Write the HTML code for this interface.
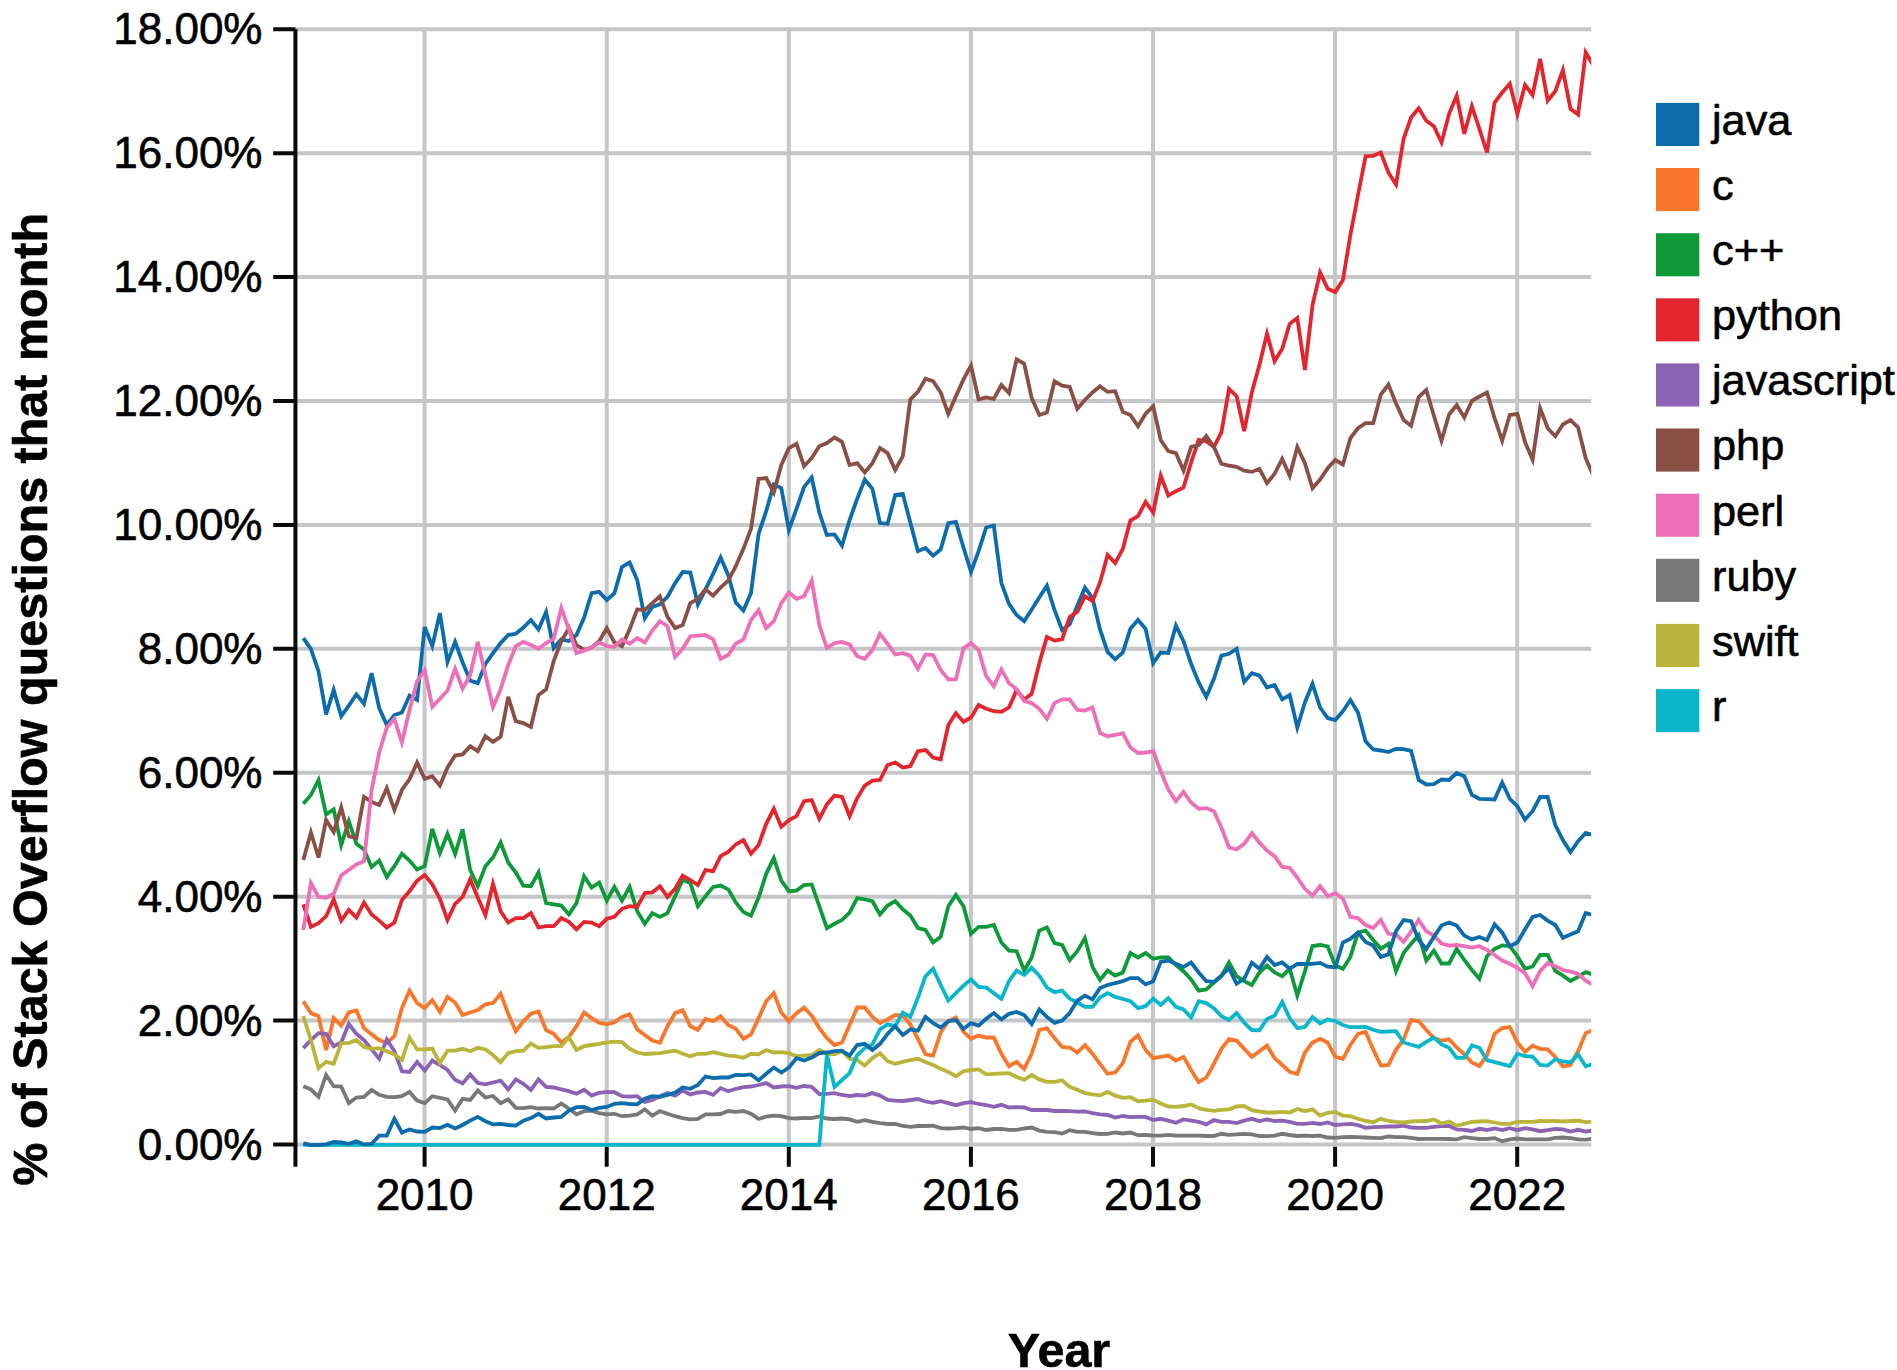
<!DOCTYPE html>
<html><head><meta charset="utf-8"><title>chart</title>
<style>html,body{margin:0;padding:0;background:#fff}svg{display:block}text{font-family:"Liberation Sans",sans-serif;fill:#000;stroke:#000;stroke-width:0.6px;stroke-linejoin:round}</style></head><body>
<svg width="1897" height="1370" viewBox="0 0 1897 1370">
<rect width="1897" height="1370" fill="#fff"/>
<defs><clipPath id="cp"><rect x="296" y="9.3" width="1295.2" height="1139.2"/></clipPath></defs>
<path d="M424.6 27.3V1146.5M606.7 27.3V1146.5M788.8 27.3V1146.5M970.9 27.3V1146.5M1153.0 27.3V1146.5M1335.1 27.3V1146.5M1517.2 27.3V1146.5M295.45 29.30H1591.2M295.45 153.21H1591.2M295.45 277.12H1591.2M295.45 401.03H1591.2M295.45 524.94H1591.2M295.45 648.86H1591.2M295.45 772.77H1591.2M295.45 896.68H1591.2M295.45 1020.59H1591.2M295.45 1144.50H1591.2" stroke="#c5c6c7" stroke-width="4" fill="none"/>
<path d="M295.45 29.30V1166.7M273.2 29.30H295.45M273.2 153.21H295.45M273.2 277.12H295.45M273.2 401.03H295.45M273.2 524.94H295.45M273.2 648.86H295.45M273.2 772.77H295.45M273.2 896.68H295.45M273.2 1020.59H295.45M273.2 1144.50H295.45M424.6 1146.7V1166.7M606.7 1146.7V1166.7M788.8 1146.7V1166.7M970.9 1146.7V1166.7M1153.0 1146.7V1166.7M1335.1 1146.7V1166.7M1517.2 1146.7V1166.7" stroke="#0a0a0a" stroke-width="4" fill="none"/>
<g clip-path="url(#cp)" fill="none" stroke-width="3.8" stroke-linejoin="miter" stroke-linecap="butt">
<path d="M303.3 638.1L310.9 648.8L318.5 671.2L326.1 714.4L333.7 690.0L341.2 716.2L348.8 705.6L356.4 694.4L364.0 703.8L371.6 673.1L379.2 708.1L386.8 725.0L394.4 715.0L401.9 712.5L409.5 695.6L417.1 700.0L424.7 626.9L432.3 646.2L439.9 613.1L447.5 661.9L455.1 641.9L462.6 662.2L470.2 680.6L477.8 683.1L485.4 663.8L493.0 653.1L500.6 643.1L508.2 635.0L515.8 633.8L523.4 627.5L530.9 620.0L538.5 629.4L546.1 611.9L553.7 648.1L561.3 639.4L568.9 641.0L576.5 635.0L584.1 617.5L591.6 593.1L599.2 591.9L606.8 600.0L614.4 593.1L622.0 566.9L629.6 562.5L637.2 580.0L644.8 618.1L652.3 606.9L659.9 604.4L667.5 596.9L675.1 583.1L682.7 571.9L690.3 572.5L697.9 604.4L705.5 589.4L713.1 573.8L720.6 557.5L728.2 575.0L735.8 602.5L743.4 610.6L751.0 593.1L758.6 533.8L766.2 511.2L773.8 484.4L781.3 488.1L788.9 530.0L796.5 508.8L804.1 486.9L811.7 477.5L819.3 512.5L826.9 535.0L834.5 534.4L842.0 545.6L849.6 520.0L857.2 498.8L864.8 479.4L872.4 488.8L880.0 523.1L887.6 523.8L895.2 495.0L902.8 493.8L910.3 522.5L917.9 551.2L925.5 548.1L933.1 555.6L940.7 549.4L948.3 523.1L955.9 521.9L963.5 547.5L971.0 571.9L978.6 551.2L986.2 527.5L993.8 525.6L1001.4 583.1L1009.0 603.8L1016.6 615.0L1024.2 621.2L1031.7 609.4L1039.3 597.5L1046.9 585.6L1054.5 610.0L1062.1 630.0L1069.7 624.4L1077.3 605.6L1084.9 587.5L1092.5 598.1L1100.0 629.4L1107.6 651.9L1115.2 659.4L1122.8 652.5L1130.4 628.8L1138.0 620.0L1145.6 628.8L1153.2 663.1L1160.7 652.5L1168.3 653.1L1175.9 625.6L1183.5 641.2L1191.1 663.8L1198.7 682.5L1206.3 696.9L1213.9 678.8L1221.4 655.6L1229.0 653.8L1236.6 648.8L1244.2 681.9L1251.8 673.1L1259.4 675.6L1267.0 687.5L1274.6 685.0L1282.2 699.4L1289.7 695.0L1297.3 727.5L1304.9 702.5L1312.5 683.8L1320.1 707.5L1327.7 718.1L1335.3 720.0L1342.9 711.2L1350.4 700.0L1358.0 712.5L1365.6 741.2L1373.2 749.5L1380.8 750.5L1388.4 752.0L1396.0 748.8L1403.6 749.2L1411.1 750.8L1418.7 780.0L1426.3 784.5L1433.9 784.2L1441.5 779.5L1449.1 780.0L1456.7 773.0L1464.3 776.2L1471.9 795.0L1479.4 798.8L1487.0 799.2L1494.6 799.5L1502.2 782.5L1509.8 798.8L1517.4 806.2L1525.0 819.5L1532.6 811.2L1540.1 797.0L1547.7 797.0L1555.3 825.0L1562.9 840.0L1570.5 852.0L1578.1 841.2L1585.7 833.0L1593.3 835.0" stroke="#0d6cab"/>
<path d="M303.3 1001.2L310.9 1013.1L318.5 1016.2L326.1 1050.0L333.7 1018.1L341.2 1025.6L348.8 1012.5L356.4 1010.6L364.0 1028.1L371.6 1034.4L379.2 1040.0L386.8 1043.1L394.4 1036.2L401.9 1008.1L409.5 990.6L417.1 1003.1L424.7 1008.1L432.3 1000.0L439.9 1011.9L447.5 996.9L455.1 1002.5L462.6 1015.0L470.2 1012.5L477.8 1010.0L485.4 1004.4L493.0 1003.1L500.6 993.8L508.2 1013.8L515.8 1031.2L523.4 1021.2L530.9 1013.8L538.5 1011.5L546.1 1030.0L553.7 1033.8L561.3 1042.5L568.9 1036.9L576.5 1026.2L584.1 1012.5L591.6 1018.1L599.2 1022.8L606.8 1024.4L614.4 1022.2L622.0 1016.9L629.6 1014.4L637.2 1029.4L644.8 1035.0L652.3 1040.6L659.9 1042.8L667.5 1026.2L675.1 1013.1L682.7 1010.2L690.3 1026.2L697.9 1029.8L705.5 1019.0L713.1 1021.2L720.6 1016.2L728.2 1025.0L735.8 1028.8L743.4 1038.8L751.0 1034.4L758.6 1018.1L766.2 1001.2L773.8 993.1L781.3 1012.5L788.9 1021.2L796.5 1013.1L804.1 1007.5L811.7 1015.6L819.3 1028.1L826.9 1038.1L834.5 1045.0L842.0 1042.5L849.6 1025.0L857.2 1007.5L864.8 1007.5L872.4 1016.9L880.0 1023.1L887.6 1019.4L895.2 1015.0L902.8 1015.6L910.3 1024.4L917.9 1038.8L925.5 1054.4L933.1 1055.6L940.7 1032.5L948.3 1021.2L955.9 1017.5L963.5 1031.9L971.0 1038.8L978.6 1035.6L986.2 1037.5L993.8 1037.5L1001.4 1053.8L1009.0 1066.2L1016.6 1061.9L1024.2 1068.8L1031.7 1053.8L1039.3 1030.0L1046.9 1028.1L1054.5 1038.1L1062.1 1046.9L1069.7 1047.5L1077.3 1052.5L1084.9 1045.0L1092.5 1053.8L1100.0 1063.8L1107.6 1073.8L1115.2 1072.5L1122.8 1063.1L1130.4 1041.9L1138.0 1035.2L1145.6 1050.0L1153.2 1058.1L1160.7 1056.9L1168.3 1055.6L1175.9 1060.6L1183.5 1056.9L1191.1 1070.0L1198.7 1082.2L1206.3 1077.5L1213.9 1063.8L1221.4 1048.8L1229.0 1039.0L1236.6 1040.6L1244.2 1048.8L1251.8 1056.9L1259.4 1051.2L1267.0 1045.6L1274.6 1058.1L1282.2 1065.0L1289.7 1071.9L1297.3 1074.0L1304.9 1052.5L1312.5 1042.5L1320.1 1038.8L1327.7 1042.5L1335.3 1056.9L1342.9 1058.8L1350.4 1045.0L1358.0 1033.8L1365.6 1031.9L1373.2 1049.4L1380.8 1065.6L1388.4 1065.0L1396.0 1049.8L1403.6 1039.4L1411.1 1019.8L1418.7 1021.2L1426.3 1030.0L1433.9 1038.1L1441.5 1040.6L1449.1 1039.4L1456.7 1047.5L1464.3 1054.4L1471.9 1062.5L1479.4 1066.0L1487.0 1055.0L1494.6 1033.8L1502.2 1028.1L1509.8 1027.1L1517.4 1042.5L1525.0 1051.9L1532.6 1045.6L1540.1 1048.8L1547.7 1049.4L1555.3 1056.9L1562.9 1066.5L1570.5 1065.0L1578.1 1051.2L1585.7 1033.1L1593.3 1030.0" stroke="#f9772b"/>
<path d="M303.3 803.8L310.9 795.0L318.5 780.0L326.1 814.4L333.7 809.4L341.2 845.0L348.8 821.2L356.4 843.8L364.0 849.4L371.6 866.9L379.2 860.6L386.8 876.9L394.4 866.2L401.9 853.8L409.5 860.6L417.1 869.4L424.7 866.2L432.3 828.8L439.9 853.1L447.5 833.8L455.1 853.8L462.6 829.4L470.2 870.0L477.8 886.2L485.4 866.2L493.0 857.5L500.6 842.5L508.2 862.5L515.8 872.5L523.4 885.6L530.9 886.2L538.5 872.5L546.1 903.1L553.7 904.4L561.3 905.6L568.9 914.4L576.5 903.1L584.1 876.2L591.6 887.5L599.2 882.5L606.8 900.6L614.4 886.9L622.0 900.6L629.6 886.9L637.2 911.2L644.8 923.8L652.3 913.1L659.9 916.9L667.5 913.1L675.1 896.2L682.7 880.0L690.3 883.1L697.9 906.2L705.5 896.2L713.1 886.9L720.6 885.6L728.2 889.4L735.8 902.5L743.4 911.9L751.0 915.6L758.6 897.5L766.2 873.8L773.8 858.1L781.3 880.6L788.9 891.2L796.5 890.6L804.1 885.0L811.7 884.4L819.3 906.2L826.9 928.1L834.5 923.8L842.0 920.0L849.6 912.5L857.2 898.1L864.8 899.4L872.4 901.2L880.0 914.4L887.6 905.6L895.2 901.2L902.8 909.4L910.3 915.6L917.9 928.1L925.5 930.0L933.1 942.5L940.7 936.9L948.3 906.2L955.9 895.0L963.5 906.2L971.0 933.8L978.6 926.9L986.2 926.9L993.8 925.0L1001.4 942.5L1009.0 950.6L1016.6 951.2L1024.2 970.6L1031.7 957.5L1039.3 930.6L1046.9 927.5L1054.5 943.1L1062.1 945.0L1069.7 960.0L1077.3 951.2L1084.9 938.1L1092.5 966.9L1100.0 980.0L1107.6 970.6L1115.2 975.6L1122.8 972.5L1130.4 953.1L1138.0 957.5L1145.6 953.1L1153.2 958.8L1160.7 957.5L1168.3 957.5L1175.9 965.0L1183.5 971.2L1191.1 979.4L1198.7 990.6L1206.3 989.4L1213.9 982.5L1221.4 976.2L1229.0 962.5L1236.6 976.2L1244.2 981.2L1251.8 985.0L1259.4 972.5L1267.0 965.6L1274.6 972.5L1282.2 976.2L1289.7 968.8L1297.3 995.6L1304.9 971.2L1312.5 946.0L1320.1 945.0L1327.7 946.5L1335.3 965.6L1342.9 968.8L1350.4 956.9L1358.0 932.5L1365.6 930.6L1373.2 940.0L1380.8 948.8L1388.4 943.8L1396.0 971.2L1403.6 953.1L1411.1 943.8L1418.7 935.0L1426.3 960.6L1433.9 950.6L1441.5 963.5L1449.1 963.5L1456.7 949.0L1464.3 960.0L1471.9 970.0L1479.4 978.8L1487.0 956.2L1494.6 948.8L1502.2 945.4L1509.8 946.2L1517.4 956.2L1525.0 968.8L1532.6 966.5L1540.1 955.0L1547.7 955.0L1555.3 971.0L1562.9 975.6L1570.5 981.0L1578.1 976.9L1585.7 972.2L1593.3 974.8" stroke="#0f9a3a"/>
<path d="M303.3 904.4L310.9 926.9L318.5 923.1L326.1 916.2L333.7 899.4L341.2 920.6L348.8 910.0L356.4 917.5L364.0 902.5L371.6 914.4L379.2 920.6L386.8 927.5L394.4 922.5L401.9 900.0L409.5 891.2L417.1 880.6L424.7 875.0L432.3 884.4L439.9 898.8L447.5 920.0L455.1 903.8L462.6 896.9L470.2 879.4L477.8 897.5L485.4 915.0L493.0 883.8L500.6 911.2L508.2 922.5L515.8 918.1L523.4 918.1L530.9 913.1L538.5 927.5L546.1 926.2L553.7 926.2L561.3 918.1L568.9 921.9L576.5 929.4L584.1 921.9L591.6 922.5L599.2 926.2L606.8 918.8L614.4 916.9L622.0 908.8L629.6 906.2L637.2 906.9L644.8 893.1L652.3 892.5L659.9 886.2L667.5 896.9L675.1 888.8L682.7 875.6L690.3 880.0L697.9 885.0L705.5 870.0L713.1 871.2L720.6 856.2L728.2 851.9L735.8 844.4L743.4 840.0L751.0 853.8L758.6 845.0L766.2 823.8L773.8 808.8L781.3 826.9L788.9 820.0L796.5 816.2L804.1 801.2L811.7 800.0L819.3 818.8L826.9 804.4L834.5 795.6L842.0 796.9L849.6 816.2L857.2 798.1L864.8 785.6L872.4 780.6L880.0 780.0L887.6 765.0L895.2 762.5L902.8 767.5L910.3 766.2L917.9 751.2L925.5 750.0L933.1 757.5L940.7 759.4L948.3 725.0L955.9 713.1L963.5 721.9L971.0 717.5L978.6 705.0L986.2 708.8L993.8 711.2L1001.4 711.9L1009.0 707.5L1016.6 690.2L1024.2 699.4L1031.7 693.8L1039.3 663.1L1046.9 636.9L1054.5 640.6L1062.1 639.4L1069.7 616.9L1077.3 611.9L1084.9 596.2L1092.5 601.2L1100.0 582.5L1107.6 555.0L1115.2 563.1L1122.8 548.8L1130.4 520.6L1138.0 516.2L1145.6 501.9L1153.2 512.5L1160.7 475.6L1168.3 495.6L1175.9 491.2L1183.5 487.5L1191.1 462.5L1198.7 440.0L1206.3 441.2L1213.9 446.9L1221.4 432.5L1229.0 388.8L1236.6 396.2L1244.2 431.2L1251.8 392.5L1259.4 365.0L1267.0 333.8L1274.6 361.2L1282.2 348.8L1289.7 323.8L1297.3 318.0L1304.9 370.0L1312.5 305.0L1320.1 272.5L1327.7 288.8L1335.3 292.0L1342.9 280.0L1350.4 235.0L1358.0 195.0L1365.6 156.2L1373.2 155.8L1380.8 152.5L1388.4 172.5L1396.0 184.5L1403.6 138.8L1411.1 117.5L1418.7 108.2L1426.3 120.8L1433.9 126.2L1441.5 142.5L1449.1 113.8L1456.7 95.8L1464.3 133.8L1471.9 106.2L1479.4 128.8L1487.0 152.5L1494.6 102.5L1502.2 92.5L1509.8 83.8L1517.4 113.8L1525.0 85.0L1532.6 95.0L1540.1 58.8L1547.7 100.5L1555.3 91.2L1562.9 70.1L1570.5 108.8L1578.1 114.5L1585.7 52.4L1593.3 65.5" stroke="#e3252d"/>
<path d="M303.3 1048.1L310.9 1040.0L318.5 1033.1L326.1 1033.8L333.7 1046.2L341.2 1042.5L348.8 1023.8L356.4 1033.8L364.0 1040.0L371.6 1049.4L379.2 1058.8L386.8 1039.4L394.4 1051.2L401.9 1071.2L409.5 1071.9L417.1 1061.9L424.7 1070.6L432.3 1060.6L439.9 1065.0L447.5 1070.0L455.1 1079.8L462.6 1083.5L470.2 1074.4L477.8 1083.1L485.4 1084.4L493.0 1082.5L500.6 1080.6L508.2 1089.4L515.8 1079.4L523.4 1083.8L530.9 1090.0L538.5 1079.4L546.1 1086.9L553.7 1087.5L561.3 1089.4L568.9 1091.2L576.5 1093.8L584.1 1089.8L591.6 1095.6L599.2 1092.8L606.8 1091.9L614.4 1092.2L622.0 1096.2L629.6 1096.6L637.2 1096.2L644.8 1101.9L652.3 1100.0L659.9 1096.2L667.5 1093.1L675.1 1095.6L682.7 1090.6L690.3 1094.4L697.9 1092.5L705.5 1091.9L713.1 1094.8L720.6 1088.1L728.2 1091.2L735.8 1088.8L743.4 1087.2L751.0 1086.5L758.6 1085.0L766.2 1083.1L773.8 1087.5L781.3 1086.5L788.9 1086.2L796.5 1087.8L804.1 1086.0L811.7 1086.9L819.3 1094.0L826.9 1093.8L834.5 1093.1L842.0 1095.0L849.6 1096.2L857.2 1095.0L864.8 1095.6L872.4 1093.1L880.0 1095.6L887.6 1100.0L895.2 1100.6L902.8 1101.0L910.3 1100.0L917.9 1099.0L925.5 1101.5L933.1 1102.9L940.7 1101.2L948.3 1103.1L955.9 1105.2L963.5 1103.1L971.0 1102.2L978.6 1104.0L986.2 1105.0L993.8 1106.9L1001.4 1104.8L1009.0 1107.5L1016.6 1107.2L1024.2 1107.5L1031.7 1110.0L1039.3 1109.8L1046.9 1110.0L1054.5 1111.0L1062.1 1111.0L1069.7 1111.2L1077.3 1111.6L1084.9 1111.5L1092.5 1113.1L1100.0 1114.4L1107.6 1115.0L1115.2 1117.5L1122.8 1116.0L1130.4 1117.2L1138.0 1116.9L1145.6 1116.9L1153.2 1120.0L1160.7 1118.8L1168.3 1120.6L1175.9 1122.8L1183.5 1119.4L1191.1 1120.6L1198.7 1121.9L1206.3 1124.4L1213.9 1120.0L1221.4 1121.9L1229.0 1121.9L1236.6 1123.1L1244.2 1120.6L1251.8 1118.8L1259.4 1121.0L1267.0 1119.4L1274.6 1121.0L1282.2 1120.6L1289.7 1121.9L1297.3 1123.8L1304.9 1123.8L1312.5 1122.8L1320.1 1124.0L1327.7 1122.5L1335.3 1125.0L1342.9 1124.4L1350.4 1123.8L1358.0 1125.2L1365.6 1127.8L1373.2 1127.2L1380.8 1126.9L1388.4 1126.5L1396.0 1126.5L1403.6 1125.6L1411.1 1127.5L1418.7 1127.9L1426.3 1127.8L1433.9 1126.9L1441.5 1126.2L1449.1 1126.0L1456.7 1129.4L1464.3 1129.8L1471.9 1131.0L1479.4 1128.8L1487.0 1130.0L1494.6 1128.5L1502.2 1130.0L1509.8 1128.1L1517.4 1130.2L1525.0 1128.1L1532.6 1129.4L1540.1 1131.2L1547.7 1130.2L1555.3 1128.8L1562.9 1129.4L1570.5 1131.5L1578.1 1129.8L1585.7 1131.5L1593.3 1130.6" stroke="#8c62b5"/>
<path d="M303.3 860.0L310.9 832.5L318.5 857.5L326.1 820.0L333.7 831.9L341.2 807.5L348.8 836.2L356.4 838.1L364.0 796.9L371.6 801.9L379.2 805.0L386.8 788.1L394.4 810.0L401.9 790.0L409.5 779.4L417.1 762.5L424.7 778.8L432.3 776.2L439.9 785.6L447.5 767.5L455.1 755.6L462.6 754.4L470.2 746.2L477.8 751.2L485.4 736.2L493.0 741.9L500.6 736.9L508.2 696.9L515.8 721.2L523.4 723.1L530.9 726.9L538.5 695.0L546.1 689.4L553.7 661.2L561.3 641.2L568.9 628.1L576.5 645.0L584.1 649.8L591.6 647.5L599.2 641.2L606.8 628.1L614.4 642.5L622.0 646.2L629.6 629.4L637.2 609.4L644.8 610.0L652.3 603.1L659.9 596.2L667.5 616.9L675.1 628.1L682.7 625.0L690.3 603.1L697.9 598.8L705.5 589.4L713.1 595.6L720.6 587.5L728.2 580.6L735.8 566.2L743.4 548.8L751.0 528.8L758.6 478.8L766.2 478.1L773.8 492.5L781.3 465.0L788.9 448.1L796.5 443.8L804.1 466.2L811.7 458.1L819.3 446.2L826.9 443.1L834.5 437.5L842.0 441.9L849.6 465.0L857.2 463.1L864.8 472.5L872.4 463.1L880.0 448.1L887.6 453.1L895.2 470.0L902.8 456.2L910.3 399.4L917.9 391.9L925.5 378.8L933.1 381.2L940.7 392.5L948.3 413.8L955.9 396.2L963.5 379.4L971.0 365.6L978.6 399.4L986.2 397.5L993.8 398.8L1001.4 385.0L1009.0 393.1L1016.6 359.4L1024.2 363.8L1031.7 398.1L1039.3 415.0L1046.9 412.5L1054.5 381.2L1062.1 385.6L1069.7 386.9L1077.3 408.8L1084.9 400.0L1092.5 392.5L1100.0 386.2L1107.6 391.9L1115.2 391.2L1122.8 411.9L1130.4 415.0L1138.0 426.2L1145.6 413.8L1153.2 406.2L1160.7 440.0L1168.3 451.2L1175.9 453.1L1183.5 470.6L1191.1 446.9L1198.7 445.0L1206.3 436.2L1213.9 446.9L1221.4 463.8L1229.0 465.6L1236.6 466.9L1244.2 470.6L1251.8 471.9L1259.4 468.8L1267.0 483.1L1274.6 473.8L1282.2 459.0L1289.7 475.8L1297.3 447.0L1304.9 463.2L1312.5 488.2L1320.1 479.5L1327.7 468.2L1335.3 460.0L1342.9 464.5L1350.4 438.2L1358.0 428.2L1365.6 423.2L1373.2 423.2L1380.8 394.5L1388.4 384.5L1396.0 403.2L1403.6 420.0L1411.1 425.8L1418.7 397.0L1426.3 390.0L1433.9 415.8L1441.5 440.8L1449.1 414.5L1456.7 405.0L1464.3 417.5L1471.9 400.8L1479.4 396.5L1487.0 392.5L1494.6 418.2L1502.2 440.8L1509.8 415.0L1517.4 413.8L1525.0 442.0L1532.6 459.5L1540.1 408.2L1547.7 428.2L1555.3 436.2L1562.9 424.5L1570.5 420.2L1578.1 427.5L1585.7 458.2L1593.3 475.8" stroke="#8a4f45"/>
<path d="M303.3 930.0L310.9 883.1L318.5 896.9L326.1 897.8L333.7 893.8L341.2 875.2L348.8 870.0L356.4 864.4L364.0 861.2L371.6 790.0L379.2 752.5L386.8 727.5L394.4 718.8L401.9 742.5L409.5 710.0L417.1 681.2L424.7 670.0L432.3 706.9L439.9 698.8L447.5 690.6L455.1 668.8L462.6 688.8L470.2 675.0L477.8 641.9L485.4 675.0L493.0 706.9L500.6 689.4L508.2 665.0L515.8 646.2L523.4 641.9L530.9 645.0L538.5 648.8L546.1 643.1L553.7 638.8L561.3 608.1L568.9 629.4L576.5 653.1L584.1 650.6L591.6 647.5L599.2 642.5L606.8 646.2L614.4 646.9L622.0 639.4L629.6 643.8L637.2 638.1L644.8 642.5L652.3 630.6L659.9 621.2L667.5 626.2L675.1 656.9L682.7 648.8L690.3 636.2L697.9 635.6L705.5 635.0L713.1 639.4L720.6 658.8L728.2 655.0L735.8 643.8L743.4 639.4L751.0 620.0L758.6 610.0L766.2 628.1L773.8 621.2L781.3 603.1L788.9 592.5L796.5 598.8L804.1 596.2L811.7 580.6L819.3 625.0L826.9 648.1L834.5 643.1L842.0 641.9L849.6 644.4L857.2 656.2L864.8 658.8L872.4 650.0L880.0 633.8L887.6 643.8L895.2 654.4L902.8 653.1L910.3 655.6L917.9 668.8L925.5 654.4L933.1 655.0L940.7 670.0L948.3 679.4L955.9 679.4L963.5 648.1L971.0 643.1L978.6 650.0L986.2 676.2L993.8 686.2L1001.4 669.4L1009.0 683.1L1016.6 689.4L1024.2 701.2L1031.7 703.1L1039.3 708.8L1046.9 718.8L1054.5 703.1L1062.1 699.4L1069.7 699.4L1077.3 710.0L1084.9 710.6L1092.5 707.5L1100.0 733.1L1107.6 736.2L1115.2 735.0L1122.8 733.1L1130.4 747.5L1138.0 753.1L1145.6 752.5L1153.2 751.2L1160.7 771.2L1168.3 789.4L1175.9 801.2L1183.5 791.9L1191.1 802.5L1198.7 808.8L1206.3 808.1L1213.9 811.2L1221.4 827.5L1229.0 847.5L1236.6 849.4L1244.2 843.8L1251.8 833.1L1259.4 842.5L1267.0 850.6L1274.6 856.2L1282.2 866.9L1289.7 867.8L1297.3 877.5L1304.9 888.8L1312.5 895.6L1320.1 886.2L1327.7 896.2L1335.3 893.1L1342.9 898.8L1350.4 916.9L1358.0 918.1L1365.6 925.0L1373.2 928.1L1380.8 920.0L1388.4 933.8L1396.0 934.4L1403.6 941.9L1411.1 931.5L1418.7 920.0L1426.3 931.2L1433.9 935.6L1441.5 943.5L1449.1 945.6L1456.7 945.0L1464.3 946.2L1471.9 947.5L1479.4 946.2L1487.0 950.0L1494.6 955.0L1502.2 960.6L1509.8 963.8L1517.4 967.8L1525.0 973.1L1532.6 986.2L1540.1 971.2L1547.7 963.1L1555.3 966.2L1562.9 970.0L1570.5 971.6L1578.1 973.8L1585.7 980.6L1593.3 985.0" stroke="#ec6fb8"/>
<path d="M303.3 1086.2L310.9 1089.4L318.5 1096.9L326.1 1075.0L333.7 1086.2L341.2 1086.5L348.8 1103.1L356.4 1097.5L364.0 1096.9L371.6 1090.0L379.2 1094.8L386.8 1096.9L394.4 1097.2L401.9 1096.2L409.5 1091.9L417.1 1100.6L424.7 1103.1L432.3 1096.2L439.9 1097.9L447.5 1099.4L455.1 1110.6L462.6 1098.8L470.2 1100.0L477.8 1090.6L485.4 1097.5L493.0 1096.0L500.6 1103.1L508.2 1099.4L515.8 1107.8L523.4 1108.1L530.9 1107.2L538.5 1108.5L546.1 1108.1L553.7 1108.5L561.3 1103.5L568.9 1108.8L576.5 1114.4L584.1 1111.2L591.6 1110.6L599.2 1113.1L606.8 1114.4L614.4 1113.8L622.0 1116.2L629.6 1115.6L637.2 1114.4L644.8 1109.4L652.3 1115.6L659.9 1111.2L667.5 1113.8L675.1 1116.2L682.7 1118.1L690.3 1119.4L697.9 1118.8L705.5 1114.4L713.1 1114.4L720.6 1114.0L728.2 1111.0L735.8 1111.9L743.4 1111.0L751.0 1113.8L758.6 1119.0L766.2 1116.5L773.8 1115.6L781.3 1116.2L788.9 1118.1L796.5 1118.5L804.1 1117.8L811.7 1118.1L819.3 1116.5L826.9 1118.5L834.5 1119.0L842.0 1118.5L849.6 1119.4L857.2 1121.9L864.8 1120.2L872.4 1121.9L880.0 1123.1L887.6 1124.0L895.2 1123.8L902.8 1126.0L910.3 1126.9L917.9 1126.0L925.5 1126.0L933.1 1125.6L940.7 1128.1L948.3 1128.5L955.9 1128.1L963.5 1127.5L971.0 1129.0L978.6 1128.1L986.2 1130.0L993.8 1129.0L1001.4 1128.8L1009.0 1129.8L1016.6 1129.8L1024.2 1128.5L1031.7 1127.5L1039.3 1130.6L1046.9 1131.9L1054.5 1132.2L1062.1 1133.5L1069.7 1130.2L1077.3 1131.9L1084.9 1131.9L1092.5 1133.1L1100.0 1134.0L1107.6 1133.8L1115.2 1132.5L1122.8 1133.5L1130.4 1132.5L1138.0 1135.2L1145.6 1135.0L1153.2 1135.6L1160.7 1135.6L1168.3 1134.8L1175.9 1135.6L1183.5 1135.6L1191.1 1135.6L1198.7 1135.6L1206.3 1136.0L1213.9 1136.0L1221.4 1133.8L1229.0 1134.8L1236.6 1134.4L1244.2 1133.8L1251.8 1134.4L1259.4 1136.0L1267.0 1136.2L1274.6 1135.6L1282.2 1133.8L1289.7 1135.0L1297.3 1136.0L1304.9 1135.6L1312.5 1136.0L1320.1 1135.6L1327.7 1137.5L1335.3 1137.8L1342.9 1137.2L1350.4 1136.9L1358.0 1137.2L1365.6 1137.5L1373.2 1137.8L1380.8 1138.1L1388.4 1136.5L1396.0 1137.2L1403.6 1137.2L1411.1 1137.8L1418.7 1139.0L1426.3 1138.8L1433.9 1138.8L1441.5 1138.8L1449.1 1139.0L1456.7 1139.4L1464.3 1137.2L1471.9 1138.1L1479.4 1139.0L1487.0 1139.0L1494.6 1138.1L1502.2 1141.2L1509.8 1139.4L1517.4 1138.5L1525.0 1139.4L1532.6 1139.4L1540.1 1139.4L1547.7 1139.4L1555.3 1137.8L1562.9 1137.5L1570.5 1138.1L1578.1 1139.4L1585.7 1139.6L1593.3 1138.8" stroke="#787878"/>
<path d="M303.3 1016.2L310.9 1040.0L318.5 1068.1L326.1 1061.9L333.7 1063.8L341.2 1043.1L348.8 1043.1L356.4 1040.0L364.0 1046.9L371.6 1048.8L379.2 1048.1L386.8 1051.2L394.4 1054.4L401.9 1060.0L409.5 1037.5L417.1 1049.4L424.7 1049.4L432.3 1048.5L439.9 1063.1L447.5 1050.6L455.1 1050.6L462.6 1048.8L470.2 1051.2L477.8 1047.8L485.4 1049.4L493.0 1055.0L500.6 1062.2L508.2 1053.1L515.8 1051.2L523.4 1050.6L530.9 1043.5L538.5 1047.8L546.1 1047.2L553.7 1046.2L561.3 1046.2L568.9 1037.2L576.5 1050.0L584.1 1046.2L591.6 1045.0L599.2 1043.8L606.8 1042.5L614.4 1041.6L622.0 1042.2L629.6 1048.8L637.2 1052.5L644.8 1054.0L652.3 1053.5L659.9 1053.1L667.5 1051.9L675.1 1050.6L682.7 1053.8L690.3 1056.2L697.9 1053.8L705.5 1053.8L713.1 1052.2L720.6 1053.8L728.2 1055.6L735.8 1056.2L743.4 1057.8L751.0 1053.8L758.6 1054.4L766.2 1050.0L773.8 1052.5L781.3 1052.2L788.9 1053.1L796.5 1056.2L804.1 1055.6L811.7 1055.0L819.3 1050.0L826.9 1053.8L834.5 1054.4L842.0 1051.2L849.6 1058.8L857.2 1060.0L864.8 1065.6L872.4 1058.1L880.0 1053.1L887.6 1061.2L895.2 1063.8L902.8 1061.9L910.3 1060.0L917.9 1058.8L925.5 1061.9L933.1 1065.0L940.7 1068.8L948.3 1071.9L955.9 1076.2L963.5 1071.2L971.0 1070.0L978.6 1069.4L986.2 1074.4L993.8 1073.8L1001.4 1073.5L1009.0 1073.1L1016.6 1076.9L1024.2 1079.8L1031.7 1075.0L1039.3 1079.4L1046.9 1081.9L1054.5 1081.9L1062.1 1080.2L1069.7 1086.9L1077.3 1089.8L1084.9 1093.1L1092.5 1094.4L1100.0 1095.4L1107.6 1091.9L1115.2 1095.6L1122.8 1097.8L1130.4 1097.2L1138.0 1101.2L1145.6 1100.6L1153.2 1099.8L1160.7 1103.5L1168.3 1106.5L1175.9 1106.9L1183.5 1106.0L1191.1 1104.4L1198.7 1108.1L1206.3 1110.0L1213.9 1110.9L1221.4 1109.8L1229.0 1109.4L1236.6 1106.5L1244.2 1106.0L1251.8 1110.2L1259.4 1111.5L1267.0 1112.5L1274.6 1112.5L1282.2 1111.9L1289.7 1112.5L1297.3 1109.0L1304.9 1111.2L1312.5 1109.4L1320.1 1115.6L1327.7 1112.8L1335.3 1111.9L1342.9 1115.6L1350.4 1116.2L1358.0 1118.8L1365.6 1121.0L1373.2 1122.2L1380.8 1118.8L1388.4 1121.0L1396.0 1121.9L1403.6 1122.5L1411.1 1121.5L1418.7 1121.2L1426.3 1121.0L1433.9 1119.4L1441.5 1123.5L1449.1 1121.5L1456.7 1125.6L1464.3 1123.8L1471.9 1121.9L1479.4 1121.5L1487.0 1121.2L1494.6 1122.5L1502.2 1123.8L1509.8 1123.8L1517.4 1121.9L1525.0 1121.9L1532.6 1121.9L1540.1 1121.0L1547.7 1121.2L1555.3 1121.0L1562.9 1121.5L1570.5 1121.0L1578.1 1120.6L1585.7 1122.2L1593.3 1121.5" stroke="#b9b53a"/>
<path d="M303.3 1144.8L310.9 1144.8L318.5 1144.8L326.1 1144.8L333.7 1144.8L341.2 1144.8L348.8 1144.8L356.4 1144.8L364.0 1144.8L371.6 1144.8L379.2 1144.8L386.8 1144.8L394.4 1144.8L401.9 1144.8L409.5 1144.8L417.1 1144.8L424.7 1144.8L432.3 1144.8L439.9 1144.8L447.5 1144.8L455.1 1144.8L462.6 1144.8L470.2 1144.8L477.8 1144.8L485.4 1144.8L493.0 1144.8L500.6 1144.8L508.2 1144.8L515.8 1144.8L523.4 1144.8L530.9 1144.8L538.5 1144.8L546.1 1144.8L553.7 1144.8L561.3 1144.8L568.9 1144.8L576.5 1144.8L584.1 1144.8L591.6 1144.8L599.2 1144.8L606.8 1144.8L614.4 1144.8L622.0 1144.8L629.6 1144.8L637.2 1144.8L644.8 1144.8L652.3 1144.8L659.9 1144.8L667.5 1144.8L675.1 1144.8L682.7 1144.8L690.3 1144.8L697.9 1144.8L705.5 1144.8L713.1 1144.8L720.6 1144.8L728.2 1144.8L735.8 1144.8L743.4 1144.8L751.0 1144.8L758.6 1144.8L766.2 1144.8L773.8 1144.8L781.3 1144.8L788.9 1144.8L796.5 1144.8L804.1 1144.8L811.7 1144.8L819.3 1144.8L826.9 1055.0L834.5 1086.9L842.0 1080.0L849.6 1073.1L857.2 1055.0L864.8 1048.1L872.4 1044.4L880.0 1029.4L887.6 1024.4L895.2 1026.2L902.8 1012.5L910.3 1016.9L917.9 997.8L925.5 976.2L933.1 968.8L940.7 985.0L948.3 1000.6L955.9 993.1L963.5 985.6L971.0 979.4L978.6 986.9L986.2 987.5L993.8 993.1L1001.4 998.8L1009.0 981.2L1016.6 970.6L1024.2 975.0L1031.7 967.8L1039.3 975.6L1046.9 987.5L1054.5 992.2L1062.1 990.6L1069.7 998.8L1077.3 1002.5L1084.9 1006.9L1092.5 1006.9L1100.0 997.5L1107.6 993.1L1115.2 996.9L1122.8 999.0L1130.4 1001.2L1138.0 1008.1L1145.6 1006.2L1153.2 998.5L1160.7 1005.0L1168.3 998.1L1175.9 1006.9L1183.5 1009.4L1191.1 1017.5L1198.7 1001.2L1206.3 1003.1L1213.9 1008.1L1221.4 1016.2L1229.0 1020.0L1236.6 1013.1L1244.2 1022.8L1251.8 1030.0L1259.4 1030.2L1267.0 1019.0L1274.6 1015.6L1282.2 1001.9L1289.7 1018.1L1297.3 1028.1L1304.9 1026.9L1312.5 1016.9L1320.1 1023.5L1327.7 1019.4L1335.3 1021.0L1342.9 1025.0L1350.4 1027.2L1358.0 1027.2L1365.6 1026.9L1373.2 1029.8L1380.8 1031.9L1388.4 1031.5L1396.0 1031.2L1403.6 1042.5L1411.1 1044.8L1418.7 1046.9L1426.3 1041.9L1433.9 1037.5L1441.5 1044.4L1449.1 1047.8L1456.7 1057.8L1464.3 1057.8L1471.9 1045.4L1479.4 1047.8L1487.0 1060.2L1494.6 1062.2L1502.2 1064.1L1509.8 1066.0L1517.4 1053.8L1525.0 1056.2L1532.6 1056.5L1540.1 1065.0L1547.7 1065.6L1555.3 1059.4L1562.9 1061.5L1570.5 1062.5L1578.1 1054.4L1585.7 1066.2L1593.3 1063.8" stroke="#0ab6cb"/>
<path d="M303.3 1143.1L310.9 1145.0L318.5 1145.0L326.1 1144.4L333.7 1141.9L341.2 1142.5L348.8 1143.8L356.4 1141.2L364.0 1144.4L371.6 1143.8L379.2 1135.6L386.8 1135.6L394.4 1118.8L401.9 1132.5L409.5 1129.4L417.1 1131.5L424.7 1131.9L432.3 1127.5L439.9 1128.1L447.5 1124.8L455.1 1128.5L462.6 1125.0L470.2 1120.6L477.8 1116.9L485.4 1121.2L493.0 1124.4L500.6 1123.8L508.2 1125.0L515.8 1125.6L523.4 1120.6L530.9 1118.1L538.5 1113.8L546.1 1118.5L553.7 1117.5L561.3 1116.9L568.9 1110.6L576.5 1107.2L584.1 1106.9L591.6 1110.0L599.2 1107.8L606.8 1106.9L614.4 1103.8L622.0 1103.1L629.6 1104.0L637.2 1104.4L644.8 1098.8L652.3 1096.2L659.9 1096.9L667.5 1094.8L675.1 1092.5L682.7 1087.5L690.3 1088.8L697.9 1085.0L705.5 1076.5L713.1 1078.1L720.6 1077.5L728.2 1077.5L735.8 1075.0L743.4 1075.2L751.0 1074.4L758.6 1080.2L766.2 1073.8L773.8 1067.5L781.3 1072.5L788.9 1067.5L796.5 1058.1L804.1 1060.6L811.7 1057.5L819.3 1053.1L826.9 1052.5L834.5 1051.2L842.0 1050.6L849.6 1055.6L857.2 1045.0L864.8 1043.8L872.4 1050.0L880.0 1043.8L887.6 1033.8L895.2 1026.2L902.8 1035.0L910.3 1029.4L917.9 1030.6L925.5 1016.9L933.1 1023.1L940.7 1027.5L948.3 1021.2L955.9 1020.0L963.5 1028.8L971.0 1023.1L978.6 1025.6L986.2 1018.8L993.8 1013.1L1001.4 1019.4L1009.0 1013.8L1016.6 1011.9L1024.2 1015.0L1031.7 1024.0L1039.3 1009.4L1046.9 1016.9L1054.5 1022.8L1062.1 1020.6L1069.7 1013.1L1077.3 1000.6L1084.9 995.6L1092.5 999.4L1100.0 988.1L1107.6 985.0L1115.2 983.1L1122.8 981.2L1130.4 978.1L1138.0 978.1L1145.6 984.4L1153.2 981.2L1160.7 961.9L1168.3 960.6L1175.9 963.8L1183.5 966.9L1191.1 962.5L1198.7 972.5L1206.3 981.2L1213.9 981.9L1221.4 975.6L1229.0 968.1L1236.6 983.8L1244.2 978.8L1251.8 962.8L1259.4 968.8L1267.0 956.9L1274.6 965.0L1282.2 962.5L1289.7 968.8L1297.3 964.0L1304.9 964.0L1312.5 963.8L1320.1 962.9L1327.7 966.6L1335.3 967.2L1342.9 942.5L1350.4 938.8L1358.0 932.5L1365.6 941.9L1373.2 945.6L1380.8 956.9L1388.4 954.4L1396.0 931.2L1403.6 920.0L1411.1 921.2L1418.7 940.0L1426.3 949.0L1433.9 936.9L1441.5 925.6L1449.1 922.5L1456.7 925.6L1464.3 935.6L1471.9 939.4L1479.4 936.9L1487.0 940.0L1494.6 924.4L1502.2 932.5L1509.8 946.2L1517.4 942.5L1525.0 929.4L1532.6 916.9L1540.1 915.0L1547.7 920.6L1555.3 925.0L1562.9 937.8L1570.5 934.4L1578.1 931.2L1585.7 913.1L1593.3 915.0" stroke="#0d6cab"/>
</g>
<text x="262.5" y="44.4" font-size="44" text-anchor="end">18.00%</text>
<text x="262.5" y="168.3" font-size="44" text-anchor="end">16.00%</text>
<text x="262.5" y="292.2" font-size="44" text-anchor="end">14.00%</text>
<text x="262.5" y="416.1" font-size="44" text-anchor="end">12.00%</text>
<text x="262.5" y="540.0" font-size="44" text-anchor="end">10.00%</text>
<text x="262.5" y="664.0" font-size="44" text-anchor="end">8.00%</text>
<text x="262.5" y="787.9" font-size="44" text-anchor="end">6.00%</text>
<text x="262.5" y="911.8" font-size="44" text-anchor="end">4.00%</text>
<text x="262.5" y="1035.7" font-size="44" text-anchor="end">2.00%</text>
<text x="262.5" y="1159.6" font-size="44" text-anchor="end">0.00%</text>
<text x="424.6" y="1209.7" font-size="44" text-anchor="middle">2010</text>
<text x="606.7" y="1209.7" font-size="44" text-anchor="middle">2012</text>
<text x="788.8" y="1209.7" font-size="44" text-anchor="middle">2014</text>
<text x="970.9" y="1209.7" font-size="44" text-anchor="middle">2016</text>
<text x="1153.0" y="1209.7" font-size="44" text-anchor="middle">2018</text>
<text x="1335.1" y="1209.7" font-size="44" text-anchor="middle">2020</text>
<text x="1517.2" y="1209.7" font-size="44" text-anchor="middle">2022</text>
<text x="1059" y="1367" font-size="48.5" font-weight="bold" text-anchor="middle">Year</text>
<text transform="translate(47.2,699.3) rotate(-90)" font-size="48.5" font-weight="bold" text-anchor="middle">% of Stack Overflow questions that month</text>
<rect x="1656" y="102.9" width="43.3" height="43.1" fill="#0d6cab"/>
<text x="1712" y="134.8" font-size="43.3">java</text>
<rect x="1656" y="168.0" width="43.3" height="43.1" fill="#f9772b"/>
<text x="1712" y="199.9" font-size="43.3">c</text>
<rect x="1656" y="233.2" width="43.3" height="43.1" fill="#0f9a3a"/>
<text x="1712" y="265.1" font-size="43.3">c++</text>
<rect x="1656" y="298.3" width="43.3" height="43.1" fill="#e3252d"/>
<text x="1712" y="330.2" font-size="43.3">python</text>
<rect x="1656" y="363.4" width="43.3" height="43.1" fill="#8c62b5"/>
<text x="1712" y="395.3" font-size="43.3">javascript</text>
<rect x="1656" y="428.5" width="43.3" height="43.1" fill="#8a4f45"/>
<text x="1712" y="460.4" font-size="43.3">php</text>
<rect x="1656" y="493.7" width="43.3" height="43.1" fill="#ec6fb8"/>
<text x="1712" y="525.6" font-size="43.3">perl</text>
<rect x="1656" y="558.8" width="43.3" height="43.1" fill="#787878"/>
<text x="1712" y="590.7" font-size="43.3">ruby</text>
<rect x="1656" y="623.9" width="43.3" height="43.1" fill="#b9b53a"/>
<text x="1712" y="655.8" font-size="43.3">swift</text>
<rect x="1656" y="689.1" width="43.3" height="43.1" fill="#0ab6cb"/>
<text x="1712" y="721.0" font-size="43.3">r</text>
</svg></body></html>
